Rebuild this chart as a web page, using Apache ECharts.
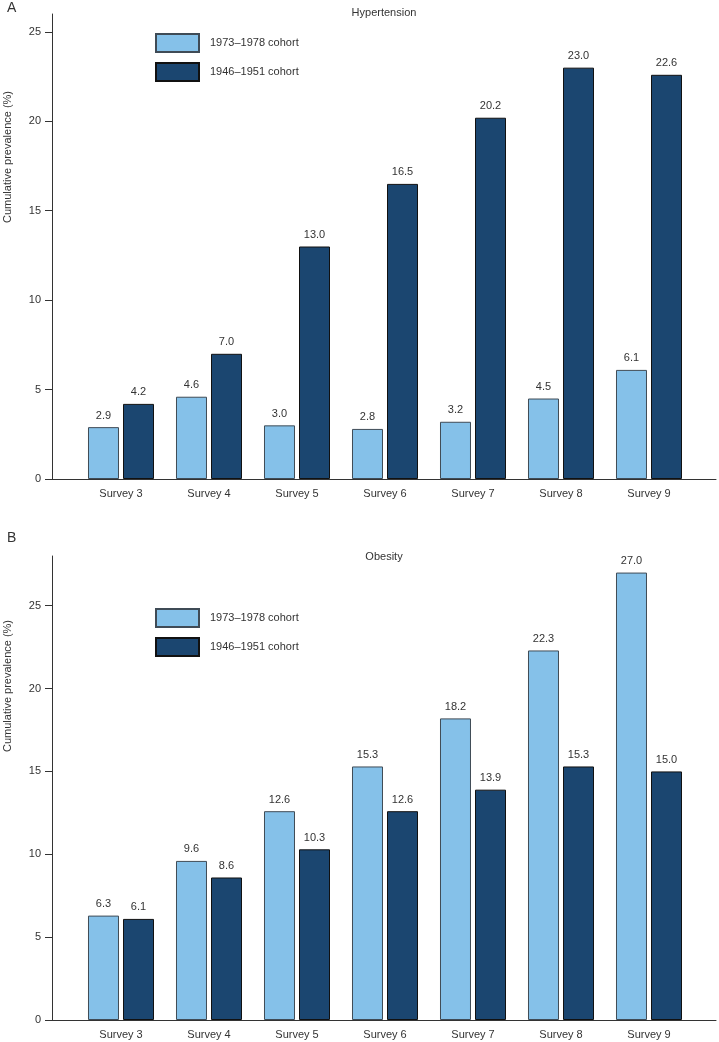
<!DOCTYPE html>
<html>
<head>
<meta charset="utf-8">
<script src="https://cdn.jsdelivr.net/npm/echarts@6/dist/echarts.min.js"></script>
<style>
html,body{margin:0;padding:0;background:#fff;}
#c{width:719px;height:1042px;}
</style>
</head>
<body>
<div id="c"></div>
<script>
const categories = ['Survey 3','Survey 4','Survey 5','Survey 6','Survey 7','Survey 8','Survey 9'];
const seriesNames = ['1973\u20131978 cohort','1946\u20131951 cohort'];
const hyperYoung = [2.9, 4.6, 3.0, 2.8, 3.2, 4.5, 6.1];
const hyperOld   = [4.2, 7.0, 13.0, 16.5, 20.2, 23.0, 22.6];
const obesYoung  = [6.3, 9.6, 12.6, 15.3, 18.2, 22.3, 27.0];
const obesOld    = [6.1, 8.6, 10.3, 12.6, 13.9, 15.3, 15.0];
const yTicks = [0, 5, 10, 15, 20, 25];

const FONT = 'Liberation Sans, Arial, sans-serif';
const LIGHT = '#85c1e9', DARK = '#1b4670';
const txt = '#333';

const panels = [
  {title:'Hypertension', letter:'A', top:14, bottom:563, max:26, young:hyperYoung, old:hyperOld, legendTop:33, nameY:157, titleTop:7, letterTop:1},
  {title:'Obesity', letter:'B', top:556, bottom:22, max:28, young:obesYoung, old:obesOld, legendTop:608, nameY:686, titleTop:551, letterTop:531}
];

const grid=[], xAxis=[], yAxis=[], series=[], legend=[], title=[], graphic=[];
panels.forEach((p,i)=>{
  grid.push({left:52, right:3, top:p.top, bottom:p.bottom});
  grid.push({left:77, right:26, top:p.top, bottom:p.bottom});
  const gw = 2*i, gn = 2*i+1;
  xAxis.push({gridIndex:gw, type:'value', min:0, max:1, axisLine:{show:true, lineStyle:{color:txt, width:1}}, axisTick:{show:false}, axisLabel:{show:false}, splitLine:{show:false}});
  xAxis.push({gridIndex:gn, type:'category', data:categories, axisLine:{show:false}, axisTick:{show:false},
    axisLabel:{color:txt, fontFamily:FONT, fontSize:11, margin:9}});
  yAxis.push({gridIndex:gw, type:'value', min:0, max:p.max,
    axisLine:{show:true, lineStyle:{color:txt, width:1}},
    axisTick:{show:true, length:7, customValues:yTicks, lineStyle:{color:txt}},
    axisLabel:{customValues:yTicks, color:txt, fontFamily:FONT, fontSize:11, margin:11},
    splitLine:{show:false}});
  yAxis.push({gridIndex:gn, type:'value', min:0, max:p.max, show:false, splitLine:{show:false}});
  const lab = {show:true, position:'top', distance:6, color:txt, fontFamily:FONT, fontSize:11, formatter:(d)=>d.value.toFixed(1)};
  series.push({type:'bar', name:seriesNames[0], xAxisIndex:gn, yAxisIndex:gn, data:p.young, barWidth:31, barGap:'13%',
    itemStyle:{color:LIGHT, borderColor:'#3f4b56', borderWidth:1}, label:lab});
  series.push({type:'bar', name:seriesNames[1], xAxisIndex:gn, yAxisIndex:gn, data:p.old, barWidth:31, barGap:'13%',
    itemStyle:{color:DARK, borderColor:'#111', borderWidth:1}, label:lab});
  legend.push({left:155, top:p.legendTop, padding:0, orient:'vertical', itemWidth:43, itemHeight:18, itemGap:9, icon:'rect',
    data:seriesNames, textStyle:{color:txt, fontFamily:FONT, fontSize:11, padding:[0,0,0,6]}, selectedMode:false});
  title.push({text:p.title, left:384, textAlign:'center', top:p.titleTop, padding:0, textStyle:{color:txt, fontFamily:FONT, fontSize:11, fontWeight:'normal'}});
  graphic.push({type:'text', left:7, top:p.letterTop, style:{text:p.letter, font:'14px '+FONT, fill:txt}});
  graphic.push({type:'text', x:8, y:p.nameY, rotation:Math.PI/2, style:{text:'Cumulative prevalence (%)', font:'11px '+FONT, fill:txt, align:'center', verticalAlign:'middle'}});
});

const chart = echarts.init(document.getElementById('c'), null, {renderer:'canvas'});
chart.setOption({animation:false, backgroundColor:'#fff', grid, xAxis, yAxis, series, legend, title, graphic});
</script>
</body>
</html>
